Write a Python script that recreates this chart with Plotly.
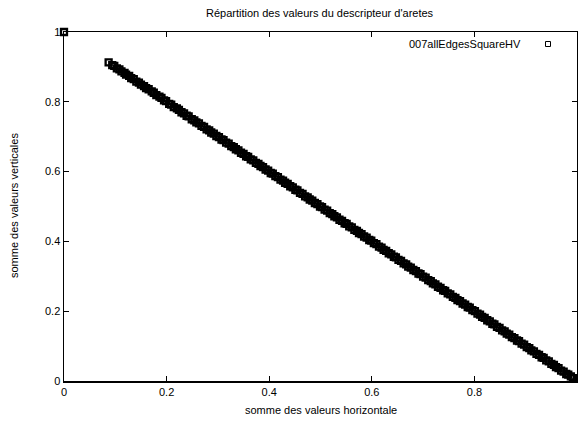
import plotly.graph_objects as go

series_name = "007allEdgesSquareHV"
title_text = "Répartition des valeurs du descripteur d'aretes"
x_title = "somme des valeurs horizontale"
y_title = "somme des valeurs verticales"

x_ticks = [0, 0.2, 0.4, 0.6, 0.8]
x_ticklabels = ["0", "0.2", "0.4", "0.6", "0.8"]
y_ticks = [0, 0.2, 0.4, 0.6, 0.8, 1]
y_ticklabels = ["0", "0.2", "0.4", "0.6", "0.8", "1"]

x_vals = [
    0.000, 0.087, 0.094, 0.098, 0.103, 0.108, 0.112, 0.118, 0.121, 0.127,
    0.131, 0.136, 0.141, 0.146, 0.150, 0.156, 0.160, 0.165, 0.171, 0.175,
    0.180, 0.186, 0.190, 0.195, 0.199, 0.205, 0.209, 0.214, 0.220, 0.224,
    0.229, 0.234, 0.239, 0.243, 0.249, 0.254, 0.258, 0.263, 0.268, 0.273,
    0.278, 0.283, 0.287, 0.292, 0.297, 0.302, 0.307, 0.311, 0.316, 0.321,
    0.326, 0.331, 0.335, 0.340, 0.345, 0.350, 0.355, 0.359, 0.364, 0.369,
    0.374, 0.379, 0.383, 0.388, 0.393, 0.398, 0.403, 0.407, 0.412, 0.417,
    0.422, 0.427, 0.431, 0.436, 0.441, 0.446, 0.451, 0.455, 0.460, 0.465,
    0.470, 0.475, 0.479, 0.484, 0.489, 0.494, 0.499, 0.503, 0.508, 0.513,
    0.518, 0.523, 0.527, 0.532, 0.537, 0.542, 0.547, 0.551, 0.556, 0.561,
    0.566, 0.571, 0.575, 0.580, 0.585, 0.590, 0.595, 0.599, 0.604, 0.609,
    0.614, 0.619, 0.623, 0.628, 0.633, 0.638, 0.643, 0.647, 0.652, 0.657,
    0.662, 0.667, 0.671, 0.676, 0.681, 0.686, 0.691, 0.695, 0.700, 0.705,
    0.710, 0.715, 0.719, 0.724, 0.729, 0.734, 0.739, 0.743, 0.748, 0.753,
    0.758, 0.763, 0.767, 0.772, 0.777, 0.782, 0.787, 0.791, 0.796, 0.801,
    0.806, 0.811, 0.815, 0.820, 0.825, 0.830, 0.835, 0.839, 0.844, 0.849,
    0.854, 0.859, 0.863, 0.868, 0.873, 0.878, 0.883, 0.887, 0.892, 0.897,
    0.902, 0.907, 0.911, 0.916, 0.921, 0.926, 0.931, 0.935, 0.940, 0.945,
    0.950, 0.955, 0.959, 0.964, 0.969, 0.974, 0.979, 0.983, 0.988, 0.992,
]
y_vals = [
    1.000, 0.913, 0.905, 0.903, 0.896, 0.893, 0.887, 0.883, 0.878, 0.874,
    0.868, 0.865, 0.858, 0.855, 0.849, 0.845, 0.839, 0.836, 0.830, 0.826,
    0.819, 0.815, 0.811, 0.804, 0.802, 0.794, 0.792, 0.785, 0.781, 0.777,
    0.770, 0.767, 0.760, 0.758, 0.750, 0.747, 0.741, 0.738, 0.731, 0.728,
    0.721, 0.718, 0.712, 0.709, 0.702, 0.699, 0.692, 0.690, 0.683, 0.680,
    0.673, 0.670, 0.664, 0.661, 0.654, 0.651, 0.644, 0.642, 0.635, 0.632,
    0.625, 0.622, 0.616, 0.613, 0.606, 0.603, 0.596, 0.594, 0.587, 0.584,
    0.577, 0.574, 0.568, 0.565, 0.558, 0.555, 0.548, 0.546, 0.539, 0.536,
    0.529, 0.526, 0.520, 0.517, 0.510, 0.507, 0.500, 0.498, 0.491, 0.488,
    0.481, 0.478, 0.472, 0.469, 0.462, 0.459, 0.452, 0.450, 0.443, 0.440,
    0.433, 0.430, 0.424, 0.421, 0.414, 0.411, 0.404, 0.402, 0.395, 0.392,
    0.385, 0.382, 0.376, 0.373, 0.366, 0.363, 0.356, 0.354, 0.347, 0.344,
    0.337, 0.334, 0.328, 0.325, 0.318, 0.315, 0.308, 0.306, 0.299, 0.296,
    0.289, 0.286, 0.280, 0.277, 0.270, 0.267, 0.260, 0.258, 0.251, 0.248,
    0.241, 0.238, 0.232, 0.229, 0.222, 0.219, 0.212, 0.210, 0.203, 0.200,
    0.193, 0.190, 0.184, 0.181, 0.174, 0.171, 0.164, 0.162, 0.155, 0.152,
    0.145, 0.142, 0.136, 0.133, 0.126, 0.123, 0.116, 0.114, 0.107, 0.104,
    0.097, 0.094, 0.088, 0.085, 0.078, 0.075, 0.068, 0.066, 0.059, 0.056,
    0.049, 0.046, 0.040, 0.037, 0.030, 0.027, 0.020, 0.018, 0.013, 0.008,
]

FONT = "Liberation Sans, Arial, Helvetica, sans-serif"
L, R, T, B = 64, 1, 32, 40
W, H = 578, 421
PW, PH = W - L - R, H - T - B


def px(xp):
    return (xp - L) / PW


def py(yp):
    return (H - B - yp) / PH


fig = go.Figure()
fig.add_trace(go.Scatter(
    x=x_vals, y=y_vals, mode="markers", name=series_name,
    marker=dict(symbol="square-open", size=6, color="black",
                line=dict(width=2.3, color="black")),
    cliponaxis=False, showlegend=False, hoverinfo="skip",
))

axis_common = dict(range=[0, 1], ticks="inside", ticklen=5, tickwidth=1,
                   tickcolor="black", showline=True, linecolor="black",
                   linewidth=1.5, mirror="ticks", showgrid=False,
                   zeroline=False, automargin=False, fixedrange=True,
                   tickfont=dict(size=11, family=FONT))

fig.update_layout(
    width=W, height=H,
    margin=dict(l=L, r=R, t=T, b=B, autoexpand=False),
    paper_bgcolor="white", plot_bgcolor="white",
    font=dict(family=FONT, size=11, color="black"),
    xaxis=dict(tickvals=x_ticks, ticktext=x_ticklabels, **axis_common),
    yaxis=dict(tickvals=y_ticks, ticktext=y_ticklabels, **axis_common),
    annotations=[
        dict(text=title_text, xref="paper", yref="paper", x=px(320), y=py(13),
             xanchor="center", yanchor="middle", showarrow=False,
             font=dict(size=11, family=FONT)),
        dict(text=x_title, xref="paper", yref="paper", x=px(321), y=py(410),
             xanchor="center", yanchor="middle", showarrow=False,
             font=dict(size=11, family=FONT)),
        dict(text=y_title, xref="paper", yref="paper", x=px(14), y=py(206),
             xanchor="center", yanchor="middle", showarrow=False,
             textangle=-90, font=dict(size=11, family=FONT)),
        dict(text=series_name, xref="paper", yref="paper",
             x=px(523), y=py(44), xanchor="right", yanchor="middle",
             showarrow=False, font=dict(size=11, family=FONT)),
    ],
    shapes=[dict(type="rect", xref="paper", yref="paper",
                 x0=px(545.5), x1=px(550.5), y0=py(46.5), y1=py(41.5),
                 line=dict(color="black", width=1))],
)

fig.write_html(
    "out.html",
    config={"displayModeBar": False, "staticPlot": True},
    post_script="document.body.style.margin='0';document.body.style.padding='0';",
)
